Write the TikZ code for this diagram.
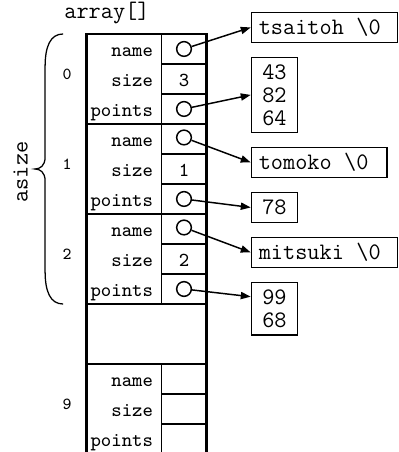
\documentclass[tikz,border=0pt]{standalone}
\usepackage{fontspec}
\usetikzlibrary{shapes,arrows.meta}
\newcommand{\gap}{\makebox[0.525em]{}}

\begin{document}
\begin{tikzpicture}[x=0.5cm,y=0.5cm,
  frame/.style={line width=1.4pt},
  cell/.style={line width=0.7pt},
  field/.style={anchor=base east, inner sep=0pt, font=\ttfamily\fontsize{9.4}{10}\selectfont},
  value/.style={anchor=base, inner sep=0pt, font=\ttfamily\fontsize{9.4}{10}\selectfont},
  ptr/.style={draw, circle, fill=white, line width=0.7pt, minimum size=0.245cm, inner sep=0pt},
  index/.style={inner sep=0pt, font=\ttfamily\fontsize{8}{9}\selectfont},
  strbox/.style={draw, line width=0.7pt, anchor=north west, minimum height=0.5cm, inner xsep=3.5pt, inner ysep=0pt, align=left, font=\ttfamily\fontsize{11.2}{10.9}\selectfont},
  numbox/.style={draw, line width=0.7pt, anchor=north west, minimum width=0.767cm, inner sep=0pt, align=center, font=\ttfamily\fontsize{11.2}{10.9}\selectfont},
  >={Triangle[length=4.7pt,width=3.4pt]}]
\useasboundingbox (-2.883,1.133) rectangle (10.383,-13.933);
%
\node[inner sep=0pt, anchor=base west, font=\ttfamily\fontsize{11.2}{12}\selectfont] (title) at (-0.75,0.517) {array[]};
%
\draw[frame] (0,-13.933) -- (0,0) -- (4,0) -- (4,-13.933);
\draw[frame] (0,-3) -- (4,-3);
\draw[frame] (0,-6) -- (4,-6);
\draw[frame] (0,-9) -- (4,-9);
\draw[frame] (0,-11) -- (4,-11);
\draw[cell] (2.5,0) -- (2.5,-9);
\draw[cell] (2.5,-11) -- (2.5,-13.933);
\draw[cell] (2.5,-1) -- (4,-1);
\draw[cell] (2.5,-2) -- (4,-2);
\draw[cell] (2.5,-4) -- (4,-4);
\draw[cell] (2.5,-5) -- (4,-5);
\draw[cell] (2.5,-7) -- (4,-7);
\draw[cell] (2.5,-8) -- (4,-8);
\draw[cell] (2.5,-12) -- (4,-12);
\draw[cell] (2.5,-13) -- (4,-13);
%
\node[index] (i0) at (-0.65,-1.33) {0};
\node[index] (i1) at (-0.65,-4.33) {1};
\node[index] (i2) at (-0.65,-7.33) {2};
\node[index] (i9) at (-0.65,-12.33) {9};
%
\node[field] (name0) at (2.23,-0.757) {name};
\node[field] (size0) at (2.23,-1.757) {size};
\node[field] (points0) at (2.23,-2.757) {points};
\node[ptr] (n0) at (3.25,-0.5) {};
\node[value] (v0) at (3.25,-1.757) {3};
\node[ptr] (p0) at (3.25,-2.5) {};
%
\node[field] (name1) at (2.23,-3.757) {name};
\node[field] (size1) at (2.23,-4.757) {size};
\node[field] (points1) at (2.23,-5.757) {points};
\node[ptr] (n1) at (3.25,-3.45) {};
\node[value] (v1) at (3.25,-4.757) {1};
\node[ptr] (p1) at (3.25,-5.5) {};
%
\node[field] (name2) at (2.23,-6.757) {name};
\node[field] (size2) at (2.23,-7.757) {size};
\node[field] (points2) at (2.23,-8.757) {points};
\node[ptr] (n2) at (3.25,-6.45) {};
\node[value] (v2) at (3.25,-7.757) {2};
\node[ptr] (p2) at (3.25,-8.5) {};
%
\node[field] (name9) at (2.23,-11.757) {name};
\node[field] (size9) at (2.23,-12.757) {size};
\node[field] (points9) at (2.23,-13.757) {points};
%
\node[strbox, text width=62.2pt] (s0) at (5.473,0.743) {tsaitoh\gap\textbackslash0};
\node[numbox, minimum height=1.25cm] (d0) at (5.473,-0.757) {43\\82\\64};
\node[strbox, text width=57.2pt] (s1) at (5.473,-3.757) {tomoko\gap\textbackslash0};
\node[numbox, minimum height=0.5cm] (d1) at (5.473,-5.257) {78};
\node[strbox, text width=62.2pt] (s2) at (5.473,-6.757) {mitsuki\gap\textbackslash0};
\node[numbox, minimum height=0.875cm] (d2) at (5.473,-8.257) {99\\68};
%
\draw[cell, ->] (n0) -- (s0.west);
\draw[cell, ->] (p0) -- (d0.west);
\draw[cell, ->] (n1) -- (s1.west);
\draw[cell, ->] (p1) -- (d1.west);
\draw[cell, ->] (n2) -- (s2.west);
\draw[cell, ->] (p2) -- ([yshift=0.2cm]d2.west);
%
\draw[line width=0.6pt] (-0.78,0) .. controls (-1.2,0) and (-1.38,-0.4) .. (-1.38,-1.1)
-- (-1.38,-4.1) .. controls (-1.38,-4.4) and (-1.55,-4.5) .. (-1.72,-4.5)
.. controls (-1.55,-4.5) and (-1.38,-4.6) .. (-1.38,-4.9)
-- (-1.38,-7.9) .. controls (-1.38,-8.6) and (-1.2,-9) .. (-0.78,-9);
\node[rotate=90, inner sep=0pt, font=\ttfamily\fontsize{11.2}{12}\selectfont] (asize) at (-2.2,-4.6) {asize};
\end{tikzpicture}
\end{document}
